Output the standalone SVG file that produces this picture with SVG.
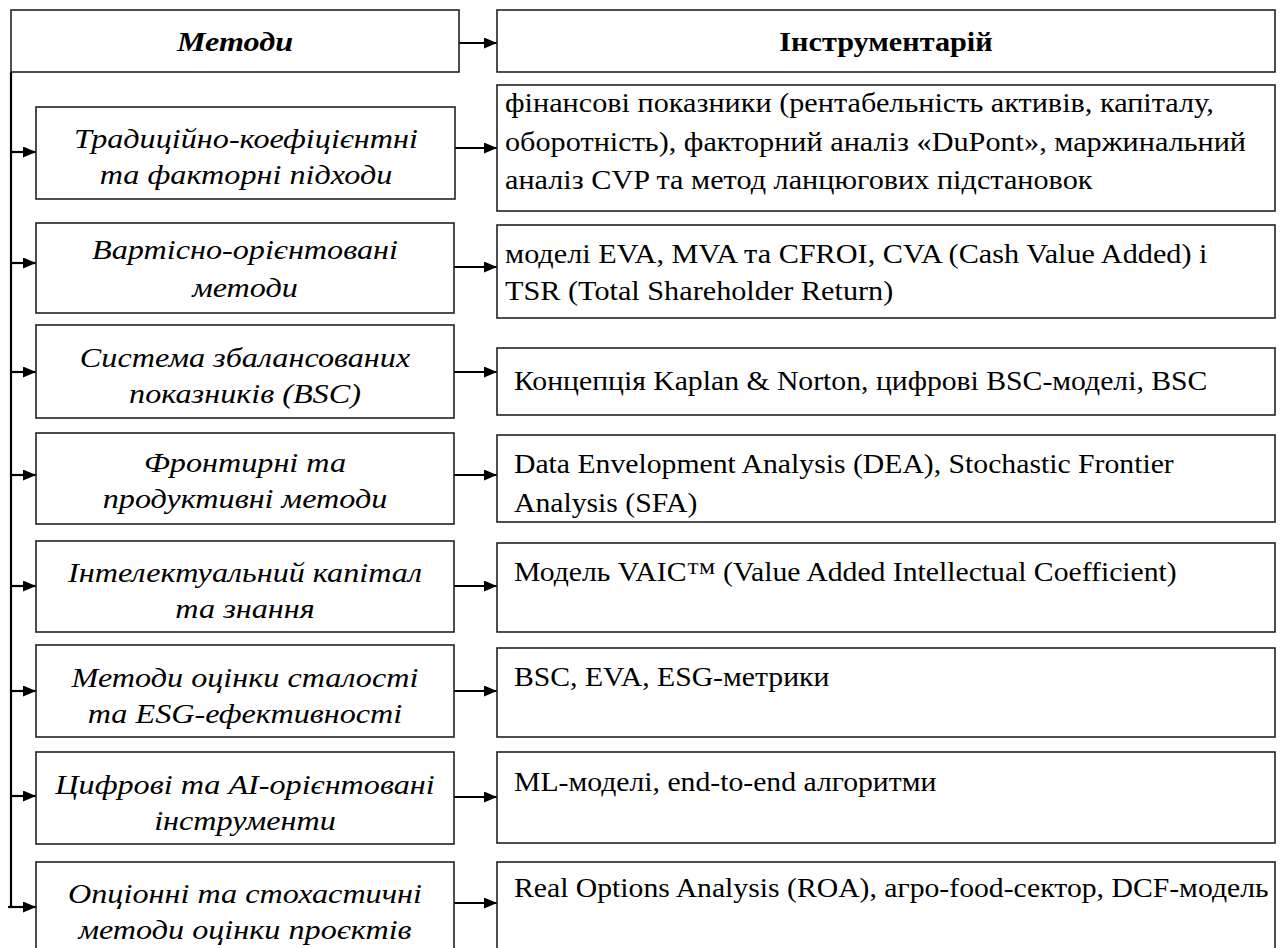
<svg xmlns="http://www.w3.org/2000/svg" width="1281" height="948" viewBox="0 0 1281 948">
<style>
.box{fill:#fff;stroke:#222;stroke-width:1.6}
.con{stroke:#000;stroke-width:2.2;fill:none}
.m{font-family:"Liberation Serif","Times New Roman",serif;font-style:italic;font-size:28px;fill:#000;text-anchor:middle}
.t{font-family:"Liberation Serif","Times New Roman",serif;font-size:27px;fill:#000}
.hm{font-family:"Liberation Serif","Times New Roman",serif;font-style:italic;font-weight:bold;font-size:28px;fill:#000;text-anchor:middle}
.ht{font-family:"Liberation Serif","Times New Roman",serif;font-weight:bold;font-size:28px;fill:#000;text-anchor:middle}
</style>
<defs>
<marker id="ah" markerWidth="13" markerHeight="11" refX="13" refY="5.5" orient="auto" markerUnits="userSpaceOnUse">
<path d="M0,0 L13,5.5 L0,11 z" fill="#000"/>
</marker>
</defs>
<rect width="1281" height="948" fill="#fff"/>

<g id="connectors">
<line class="con" x1="11" y1="72" x2="11" y2="907"/>
<line class="con" x1="459" y1="43" x2="497" y2="43" marker-end="url(#ah)"/>
<line class="con" x1="11" y1="152" x2="36" y2="152" marker-end="url(#ah)"/>
<line class="con" x1="11" y1="263" x2="36" y2="263" marker-end="url(#ah)"/>
<line class="con" x1="11" y1="372" x2="36" y2="372" marker-end="url(#ah)"/>
<line class="con" x1="11" y1="475" x2="36" y2="475" marker-end="url(#ah)"/>
<line class="con" x1="11" y1="586" x2="36" y2="586" marker-end="url(#ah)"/>
<line class="con" x1="11" y1="691" x2="36" y2="691" marker-end="url(#ah)"/>
<line class="con" x1="11" y1="796" x2="36" y2="796" marker-end="url(#ah)"/>
<line class="con" x1="8" y1="907" x2="36" y2="907" marker-end="url(#ah)"/>
<line class="con" x1="455" y1="148" x2="497" y2="148" marker-end="url(#ah)"/>
<line class="con" x1="454" y1="267" x2="497" y2="267" marker-end="url(#ah)"/>
<line class="con" x1="454" y1="372" x2="497" y2="372" marker-end="url(#ah)"/>
<line class="con" x1="454" y1="475" x2="497" y2="475" marker-end="url(#ah)"/>
<line class="con" x1="454" y1="586" x2="497" y2="586" marker-end="url(#ah)"/>
<line class="con" x1="454" y1="691" x2="497" y2="691" marker-end="url(#ah)"/>
<line class="con" x1="454" y1="797" x2="497" y2="797" marker-end="url(#ah)"/>
<line class="con" x1="454" y1="903" x2="497" y2="903" marker-end="url(#ah)"/>
</g>

<g id="head-methods">
<rect class="box" x="11" y="10" width="448" height="62"/>
<text class="hm" transform="translate(235 51) scale(1.15 1)">Методи</text>
</g>
<g id="head-tools">
<rect class="box" x="497" y="10" width="778" height="62"/>
<text class="ht" transform="translate(886 51) scale(1.08 1)">Інструментарій</text>
</g>

<g id="m1"><rect class="box" x="36" y="107" width="419" height="92"/>
<text class="m" transform="translate(246 148) scale(1.15 1)">Традиційно-коефіцієнтні</text><text class="m" transform="translate(246 184) scale(1.15 1)">та факторні підходи</text></g>
<g id="m2"><rect class="box" x="36" y="223" width="418" height="90"/>
<text class="m" transform="translate(245 259) scale(1.15 1)">Вартісно-орієнтовані</text><text class="m" transform="translate(245 297) scale(1.15 1)">методи</text></g>
<g id="m3"><rect class="box" x="36" y="325" width="418" height="93"/>
<text class="m" transform="translate(245 367) scale(1.15 1)">Система збалансованих</text><text class="m" transform="translate(245 403) scale(1.15 1)">показників (BSC)</text></g>
<g id="m4"><rect class="box" x="36" y="433" width="418" height="91"/>
<text class="m" transform="translate(245 472) scale(1.15 1)">Фронтирні та</text><text class="m" transform="translate(245 508) scale(1.15 1)">продуктивні методи</text></g>
<g id="m5"><rect class="box" x="36" y="541" width="418" height="91"/>
<text class="m" transform="translate(245 582) scale(1.15 1)">Інтелектуальний капітал</text><text class="m" transform="translate(245 618) scale(1.15 1)">та знання</text></g>
<g id="m6"><rect class="box" x="36" y="645" width="418" height="92"/>
<text class="m" transform="translate(245 687) scale(1.15 1)">Методи оцінки сталості</text><text class="m" transform="translate(245 723) scale(1.15 1)">та ESG-ефективності</text></g>
<g id="m7"><rect class="box" x="36" y="752" width="418" height="92"/>
<text class="m" transform="translate(245 794) scale(1.15 1)">Цифрові та AI-орієнтовані</text><text class="m" transform="translate(245 830) scale(1.15 1)">інструменти</text></g>
<g id="m8"><rect class="box" x="36" y="862" width="418" height="100"/>
<text class="m" transform="translate(245 903) scale(1.15 1)">Опціонні та стохастичні</text><text class="m" transform="translate(245 939) scale(1.15 1)">методи оцінки проєктів</text></g>

<g id="t1"><rect class="box" x="497" y="85" width="778" height="126"/>
<text class="t" transform="translate(505 112) scale(1.12 1)">фінансові показники (рентабельність активів, капіталу,</text>
<text class="t" transform="translate(505 151) scale(1.12 1)">оборотність), факторний аналіз «DuPont», маржинальний</text>
<text class="t" transform="translate(505 189) scale(1.12 1)">аналіз CVP та метод ланцюгових підстановок</text></g>
<g id="t2"><rect class="box" x="497" y="225" width="778" height="93"/>
<text class="t" transform="translate(505 263) scale(1.12 1)">моделі EVA, MVA та CFROI, CVA (Cash Value Added) і</text>
<text class="t" transform="translate(505 300) scale(1.12 1)">TSR (Total Shareholder Return)</text></g>
<g id="t3"><rect class="box" x="497" y="348" width="778" height="67"/>
<text class="t" transform="translate(514 390) scale(1.1 1)">Концепція Kaplan &amp; Norton, цифрові BSC-моделі, BSC</text></g>
<g id="t4"><rect class="box" x="497" y="435" width="778" height="87"/>
<text class="t" transform="translate(514 473) scale(1.1 1)">Data Envelopment Analysis (DEA), Stochastic Frontier</text>
<text class="t" transform="translate(514 512) scale(1.1 1)">Analysis (SFA)</text></g>
<g id="t5"><rect class="box" x="497" y="543" width="778" height="89"/>
<text class="t" transform="translate(514 581) scale(1.1 1)">Модель VAIC™ (Value Added Intellectual Coefficient)</text></g>
<g id="t6"><rect class="box" x="497" y="648" width="778" height="89"/>
<text class="t" transform="translate(514 686) scale(1.1 1)">BSC, EVA, ESG-метрики</text></g>
<g id="t7"><rect class="box" x="497" y="752" width="778" height="91"/>
<text class="t" transform="translate(514 791) scale(1.1 1)">ML-моделі, end-to-end алгоритми</text></g>
<g id="t8"><rect class="box" x="497" y="862" width="778" height="100"/>
<text class="t" transform="translate(514 897) scale(1.1 1)">Real Options Analysis (ROA), агро-food-сектор, DCF-модель</text></g>
</svg>
